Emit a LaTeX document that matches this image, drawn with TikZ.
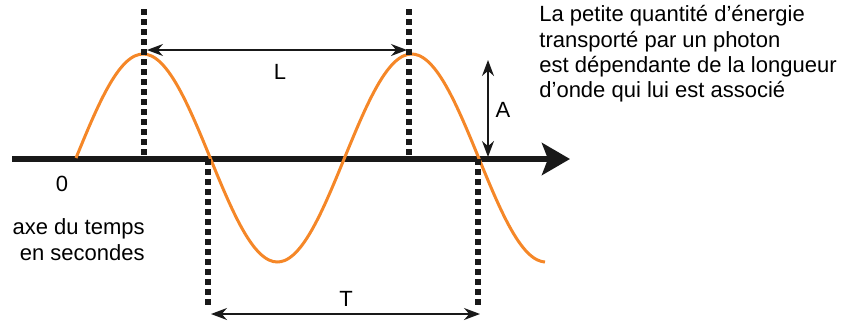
\documentclass[tikz,border=0pt]{standalone}
\usepackage{fontspec}
\setmainfont{Liberation Sans}
\usepackage{xcolor}
\usepackage{tikz}
\usetikzlibrary{
  positioning,
  arrows.meta
}

\definecolor{waveorange}{RGB}{245,135,40}

\begin{document}
\begin{tikzpicture}[
  x=0.5pt,
  y=0.5pt,
  font=\fontsize{11}{12.7}\selectfont,
  axis/.style={
    line width=3pt,
    draw=black!90,
    -{Stealth[length=14pt,width=16pt,inset=3pt]}
  },
  wave/.style={
    line width=1.5pt,
    draw=waveorange
  },
  marker/.style={
    line width=3.4pt,
    draw=black!90,
    dash pattern=on 3pt off 2pt
  },
  dim/.style={
    {Stealth[length=8pt,width=6pt]}-{Stealth[length=8pt,width=6pt]},
    line width=0.75pt,
    draw=black!90
  },
  label/.style={
    inner sep=0pt,
    font=\fontsize{11}{13}\selectfont
  }
]

% Bounding box of the picture
\useasboundingbox (0,0) rectangle (841,-322);

% Time axis
\coordinate (axstart) at (12,-159);
\coordinate (axend) at (570,-159);
\draw[axis] (axstart) -- (axend);

% Wave (two periods minus a quarter)
\draw[wave] plot[domain=76:545, samples=120, smooth]
  (\x, {-158+104*sin((\x-76)/268.5*360)});

% Marker lines at crests and zero crossings
\coordinate (crestA top) at (144,-9);
\coordinate (crestA base) at (144,-159);
\coordinate (crestB top) at (409,-9);
\coordinate (crestB base) at (409,-159);
\coordinate (zeroA top) at (208,-159);
\coordinate (zeroA base) at (208,-308);
\coordinate (zeroB top) at (478,-159);
\coordinate (zeroB base) at (478,-308);

\draw[marker] (crestA top) -- (crestA base);
\draw[marker] (crestB top) -- (crestB base);
\draw[marker] (zeroA top) -- (zeroA base);
\draw[marker] (zeroB top) -- (zeroB base);

% Wavelength L
\coordinate (lenL) at (147,-50);
\coordinate (lenR) at (407,-50);
\draw[dim] (lenL) -- (lenR);
\node[label, anchor=base] (lbl L) at (280,-79) {L};

% Amplitude A
\coordinate (ampTop) at (488,-60);
\coordinate (ampBot) at (488,-157);
\draw[dim] (ampTop) -- (ampBot);
\node[label, anchor=base] (lbl A) at (503,-117) {A};

% Period T
\coordinate (perL) at (211,-314);
\coordinate (perR) at (480,-314);
\draw[dim] (perL) -- (perR);
\node[label, anchor=base] (lbl T) at (346,-306) {T};

% Axis labels
\node[label, anchor=base] (origin) at (62,-191) {0};
\node[label, anchor=north east, align=right] (axename) at (145,-218)
  {axe du temps\\en secondes};

% Explanation
\node[anchor=north west, inner sep=0pt, align=left] (note) at (539,-5)
  {La petite quantité d’énergie\\
   transporté par un photon\\
   est dépendante de la longueur\\
   d’onde qui lui est associé};

\end{tikzpicture}
\end{document}
